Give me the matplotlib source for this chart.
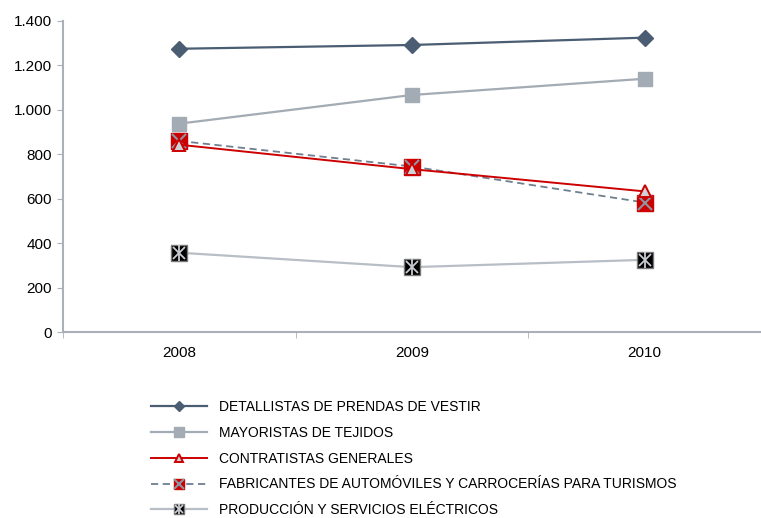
import matplotlib
matplotlib.use('Agg')
import matplotlib.pyplot as plt
from matplotlib.ticker import FuncFormatter, FixedLocator

plt.rcParams['font.family'] = ['Liberation Sans', 'DejaVu Sans']

# datos
years = ['2008', '2009', '2010']
detallistas = [1275, 1292, 1325]
mayoristas = [938, 1067, 1140]
contratistas = [843, 733, 633]
fabricantes = [860, 745, 583]
produccion = [357, 292, 325]

labels = ['DETALLISTAS DE PRENDAS DE VESTIR',
          'MAYORISTAS DE TEJIDOS',
          'CONTRATISTAS GENERALES',
          'FABRICANTES DE AUTOMÓVILES Y CARROCERÍAS PARA TURISMOS',
          'PRODUCCIÓN Y SERVICIOS ELÉCTRICOS']

axis_col = '#a9b0ba'
x = range(len(years))

fig = plt.figure(figsize=(7.61, 5.18), dpi=100)
ax = fig.add_axes([0.083, 0.359, 0.917, 0.6005])

h1 = ax.plot(x, detallistas, color='#4a5d73', lw=1.6, marker='D', ms=8,
             mfc='#4a5d73', mec='#4a5d73', zorder=3)[0]
h2 = ax.plot(x, mayoristas, color='#a3abb5', lw=1.6, marker='s', ms=9.5,
             mfc='#a3abb5', mec='#a3abb5', zorder=3)[0]

# fabricantes: cuadrado rojo con aspa gris
h4a = ax.plot(x, fabricantes, color='#6e7f90', lw=1.3, ls=(0, (4, 2.5)),
              marker='s', ms=11, mfc='#cc0000', mec='#cc0000', zorder=3)[0]
h4b = ax.plot(x, fabricantes, ls='none', marker='x', ms=10, mew=1.5,
              color='#8c96a2', zorder=4)[0]

# contratistas: triangulo rojo
h3 = ax.plot(x, contratistas, color='#cc0000', lw=1.4, marker='^', ms=9,
             mfc='#cfd3d8', mec='#cc0000', mew=1.4, zorder=5)[0]

# produccion: cuadrado negro con asterisco
h5a = ax.plot(x, produccion, color='#b8bec6', lw=1.6, marker='s', ms=11,
              mfc='black', mec='#7a7a7a', zorder=3)[0]
h5b = ax.plot(x, produccion, ls='none', marker='x', ms=9, mew=1.3,
              color='#c8ccd2', zorder=4)[0]
h5c = ax.plot(x, produccion, ls='none', marker='|', ms=11, mew=1.3,
              color='#c8ccd2', zorder=4)[0]

ax.set_ylim(0, 1400)
ax.set_xlim(-0.5, 2.5)
ax.set_yticks(range(0, 1401, 200))
ax.yaxis.set_major_formatter(FuncFormatter(lambda v, p: f'{int(v):,}'.replace(',', '.')))
ax.set_xticks(list(x))
ax.set_xticklabels(years)
ax.xaxis.set_minor_locator(FixedLocator([-0.5, 0.5, 1.5, 2.5]))
ax.tick_params(axis='x', which='major', length=0, pad=10, labelsize=11)
ax.tick_params(axis='x', which='minor', length=4, color=axis_col)
ax.tick_params(axis='y', length=4, color=axis_col, labelsize=11, pad=4)

for s in ['top', 'right']:
    ax.spines[s].set_visible(False)
for s in ['left', 'bottom']:
    ax.spines[s].set_color(axis_col)
    ax.spines[s].set_linewidth(1.5)

handles = [h1, h2, h3, (h4a, h4b), (h5a, h5b, h5c)]
leg = fig.legend(handles, labels, loc='upper left', bbox_to_anchor=(0.182, 0.252),
                 frameon=False, fontsize=10, handlelength=4.0, handletextpad=0.9,
                 labelspacing=0.85, markerscale=0.7)

plt.savefig('out.png', dpi=100)
